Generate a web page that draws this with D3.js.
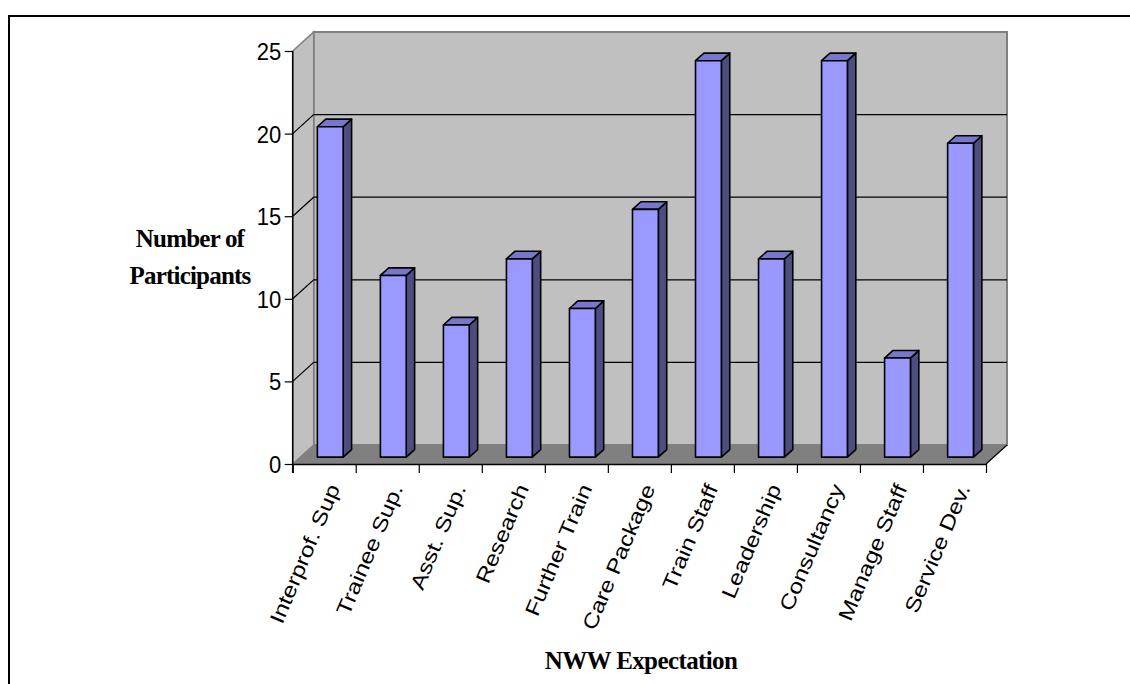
<!DOCTYPE html>
<html>
<head>
<meta charset="utf-8">
<script src="https://cdn.jsdelivr.net/npm/d3@7"></script>
<style>
  html, body { margin: 0; padding: 0; background: #fff; }
  svg { display: block; }
</style>
</head>
<body>
<svg id="chart" width="1130" height="684"></svg>
<script>
// Data
const categories = ["Interprof. Sup", "Trainee Sup.", "Asst. Sup.", "Research", "Further Train",
  "Care Package", "Train Staff", "Leadership", "Consultancy", "Manage Staff", "Service Dev."];
const values = [20, 11, 8, 12, 9, 15, 24, 12, 24, 6, 19];
const yTicks = [0, 5, 10, 15, 20, 25];
const xTitle = "NWW Expectation";
const yTitle = ["Number of", "Participants"];

const svg = d3.select("#chart");

// Front plane of the 3-D box
const X0 = 292.7, X1 = 986, Y0 = 464, Y25 = 51;
const DX = 21, DY = 19;            // depth offset of the back wall
const P = (x, y, d) => [x + d * DX, y - d * DY];

const y = d3.scaleLinear().domain([0, 25]).range([Y0, Y25]);
const xi = d3.scaleLinear().domain([0, categories.length]).range([X0, X1]);
const xb = d3.scaleBand().domain(categories).range([X0, X1]);

const poly = pts => pts.map(p => p.join(",")).join(" ");

// Outer frame
svg.append("rect").attr("x", 9).attr("y", 16).attr("width", 1140).attr("height", 700)
  .attr("fill", "none").attr("stroke", "#000").attr("stroke-width", 2);

const walls = svg.append("g");
// Back wall
walls.append("polygon")
  .attr("points", poly([P(X0, y(25), 1), P(X1, y(25), 1), P(X1, y(0), 1), P(X0, y(0), 1)]))
  .attr("fill", "#c0c0c0").attr("stroke", "#808080").attr("stroke-width", 2);
// Left wall
walls.append("polygon")
  .attr("points", poly([P(X0, y(25), 0), P(X0, y(25), 1), P(X0, y(0), 1), P(X0, y(0), 0)]))
  .attr("fill", "#c0c0c0").attr("stroke", "#808080").attr("stroke-width", 1.5);

// Gridlines across the left and back walls
yTicks.filter(t => t > 0 && t < 25).forEach(t => {
  walls.append("polyline")
    .attr("points", poly([P(X0, y(t), 0), P(X0, y(t), 1), P(X1, y(t), 1)]))
    .attr("fill", "none").attr("stroke", "#000").attr("stroke-width", 1.2);
});

// Floor
walls.append("polygon")
  .attr("points", poly([P(X0, y(0), 0), P(X1, y(0), 0), P(X1, y(0), 1), P(X0, y(0), 1)]))
  .attr("fill", "#808080").attr("stroke", "none");
walls.append("line")
  .attr("x1", P(X1, y(0), 0)[0]).attr("y1", P(X1, y(0), 0)[1])
  .attr("x2", P(X1, y(0), 1)[0]).attr("y2", P(X1, y(0), 1)[1])
  .attr("stroke", "#000").attr("stroke-width", 1.2);

// Bars (3-D columns)
const dF = 0.36, dB = 0.76;         // depth of the column front and back faces
const barW = xb.bandwidth() * 0.41;
const bars = svg.append("g");
categories.forEach((c, i) => {
  const cx = xb(c) + xb.bandwidth() / 2 - 1.5;
  const xl = cx - barW / 2, xr = cx + barW / 2;
  const yt = y(values[i]), yb = y(0);
  const fTL = P(xl, yt, dF), fTR = P(xr, yt, dF), fBR = P(xr, yb, dF), fBL = P(xl, yb, dF);
  const bTL = P(xl, yt, dB), bTR = P(xr, yt, dB), bBR = P(xr, yb, dB);
  const g = bars.append("g").attr("stroke", "#000").attr("stroke-width", 1.6)
    .attr("stroke-linejoin", "round");
  g.append("polygon").attr("points", poly([fTR, bTR, bBR, fBR])).attr("fill", "#4d4d80");
  g.append("polygon").attr("points", poly([fTL, bTL, bTR, fTR])).attr("fill", "#7777cc");
  g.append("polygon").attr("points", poly([fTL, fTR, fBR, fBL])).attr("fill", "#9999ff");
});

// Y axis
const yAxis = svg.append("g").attr("transform", `translate(${X0},0)`)
  .call(d3.axisLeft(y).tickValues(yTicks).tickSize(8).tickPadding(3).tickSizeOuter(0));
yAxis.select(".domain").remove();
yAxis.append("line").attr("x1", 0).attr("x2", 0).attr("y1", Y25).attr("y2", Y0 + 9)
  .attr("stroke", "#000").attr("stroke-width", 1.5);
yAxis.selectAll(".tick line").attr("stroke", "#000").attr("stroke-width", 1.2);
yAxis.selectAll(".tick text").attr("fill", "#000").attr("dy", "0.34em")
  .attr("transform", "scale(1.05,1.18)")
  .style("font-family", "'Liberation Sans', Arial, sans-serif").style("font-size", "21px");

// X axis with boundary ticks
const xAxis = svg.append("g").attr("transform", `translate(0,${Y0})`)
  .call(d3.axisBottom(xi).tickValues(d3.range(categories.length + 1)).tickSize(9)
    .tickFormat("").tickSizeOuter(0));
xAxis.select(".domain").attr("stroke", "#000").attr("stroke-width", 1.5);
xAxis.selectAll(".tick line").attr("stroke", "#000").attr("stroke-width", 1.2);

// Rotated category labels
svg.append("g").selectAll("text").data(categories).join("text")
  .attr("transform", d => `translate(${xb(d) + xb.bandwidth() / 2 + 2},482) rotate(-67) scale(1.2,1)`)
  .attr("text-anchor", "end").attr("dy", "0.75em")
  .style("font-family", "'Liberation Sans', Arial, sans-serif").style("font-size", "20.5px")
  .text(d => d);

// Axis titles
svg.append("text").attr("x", 641).attr("y", 669).attr("text-anchor", "middle")
  .style("font-family", "'Liberation Serif', 'Times New Roman', serif").style("font-weight", "bold")
  .style("font-size", "25px").style("letter-spacing", "-0.6px").text(xTitle);

svg.append("g").selectAll("text").data(yTitle).join("text")
  .attr("x", 190).attr("y", (d, i) => 247 + i * 37).attr("text-anchor", "middle")
  .style("font-family", "'Liberation Serif', 'Times New Roman', serif").style("font-weight", "bold")
  .style("font-size", "25px").style("letter-spacing", "-0.8px").text(d => d);
</script>
</body>
</html>
